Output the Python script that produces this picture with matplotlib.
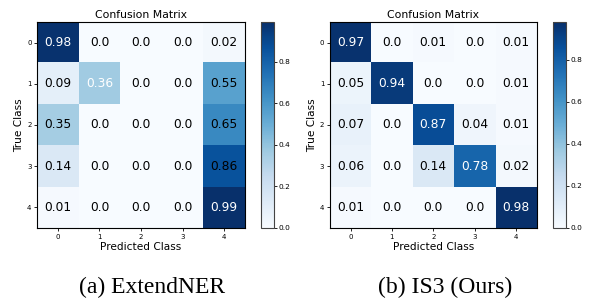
import numpy as np
import matplotlib.pyplot as plt

classes = ["0", "1", "2", "3", "4"]

# row-normalised confusion matrices
extendner = np.array([
    [0.98, 0.0, 0.0, 0.0, 0.02],
    [0.09, 0.36, 0.0, 0.0, 0.55],
    [0.35, 0.0, 0.0, 0.0, 0.65],
    [0.14, 0.0, 0.0, 0.0, 0.86],
    [0.01, 0.0, 0.0, 0.0, 0.99],
])
is3 = np.array([
    [0.97, 0.0, 0.01, 0.0, 0.01],
    [0.05, 0.94, 0.0, 0.0, 0.01],
    [0.07, 0.0, 0.87, 0.04, 0.01],
    [0.06, 0.0, 0.14, 0.78, 0.02],
    [0.01, 0.0, 0.0, 0.0, 0.98],
])
# cells whose annotation is drawn in white
extendner_white = [(0, 0), (1, 1), (4, 4)]
is3_white = [(0, 0), (1, 1), (2, 2), (3, 3), (4, 4)]

captions = ["(a) ExtendNER", "(b) IS3 (Ours)"]

fig = plt.figure(figsize=(5.89, 2.99), dpi=100)

def draw_cm(ax_rect, cb_rect, cm, white_cells, caption, cap_x):
    ax = fig.add_axes(ax_rect)
    im = ax.imshow(cm, cmap="Blues", vmin=0, vmax=cm.max(), aspect="auto",
                   interpolation="nearest")
    for i in range(cm.shape[0]):
        for j in range(cm.shape[1]):
            c = "white" if (i, j) in white_cells else "black"
            ax.text(j, i, str(cm[i, j]), ha="center", va="center",
                    color=c, fontsize=8.8)
    ax.set_xticks(range(len(classes)))
    ax.set_yticks(range(len(classes)))
    ax.set_xticklabels(classes)
    ax.set_yticklabels(classes)
    ax.tick_params(labelsize=5, length=2, width=0.6, pad=2)
    ax.set_title("Confusion Matrix", fontsize=7.8, pad=3)
    ax.set_xlabel("Predicted Class", fontsize=7.6, labelpad=2)
    ax.set_ylabel("True Class", fontsize=7.6, labelpad=2)
    for s in ax.spines.values():
        s.set_linewidth(0.8)

    cax = fig.add_axes(cb_rect)
    cb = fig.colorbar(im, cax=cax)
    cb.set_ticks([0.0, 0.2, 0.4, 0.6, 0.8])
    cb.ax.tick_params(labelsize=5.3, length=2, width=0.6, pad=1.5)
    cb.outline.set_linewidth(0.8)
    cb.outline.set_edgecolor("#444444")

    fig.text(cap_x, 0.04, caption, ha="center", va="center",
             family="Liberation Serif", fontsize=17)

draw_cm([0.063, 0.2375, 0.353, 0.689], [0.443, 0.2375, 0.022, 0.689],
        extendner, extendner_white, captions[0], 0.258)
draw_cm([0.560, 0.2375, 0.351, 0.689], [0.939, 0.2375, 0.022, 0.689],
        is3, is3_white, captions[1], 0.756)

fig.savefig("out.png", dpi=100)
